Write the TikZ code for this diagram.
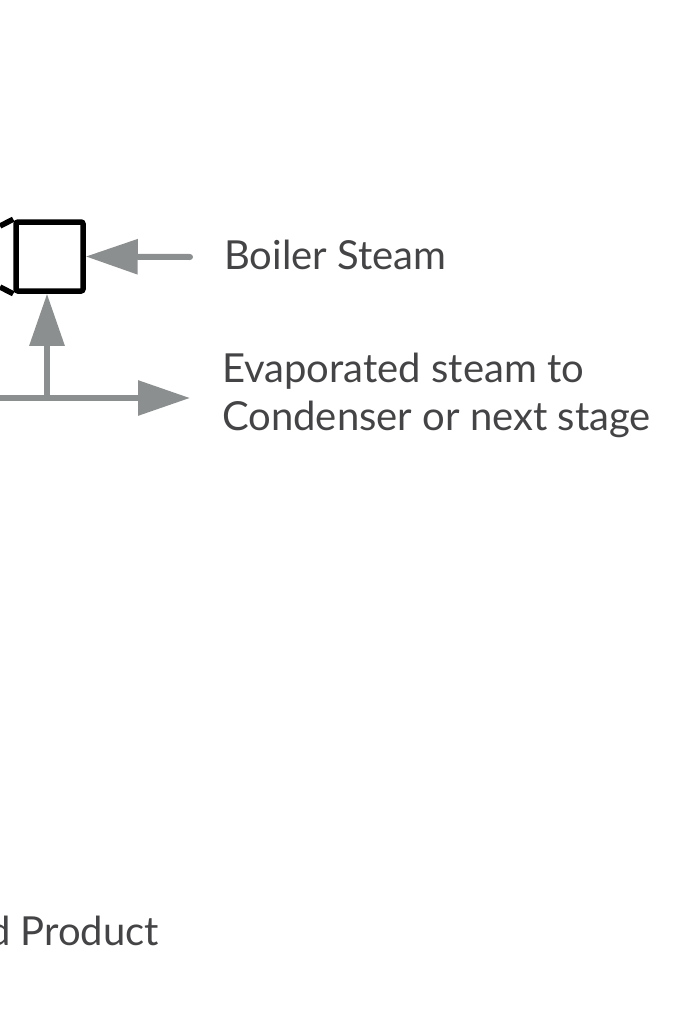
\documentclass[tikz,border=0pt]{standalone}
\usepackage{fontspec}
\setmainfont{Lato}
\usetikzlibrary{arrows.meta}
\definecolor{flowgray}{RGB}{140,143,143}
\definecolor{txtgray}{RGB}{68,68,70}
\tikzset{
  flow/.style={draw=flowgray, line width=6pt, -{Triangle[length=52pt,width=34pt]}},
  label/.style={anchor=base west, inner sep=0pt, text=txtgray, font=\fontsize{40}{48}\selectfont, align=left},
  ejector/.style={draw=black, line width=5.5pt, rounded corners=2pt, minimum width=67pt, minimum height=69pt, inner sep=0pt}
}
\begin{document}
\begin{tikzpicture}[x=1pt,y=-1pt]
\useasboundingbox (0,0) rectangle (676,1025);
\node[ejector] (box) at (49.5,256.5) {};
\coordinate (ctop) at (0,226);
\coordinate (cbot) at (0,287);
\draw[line width=5.5pt] (box.north west) -- (ctop);
\draw[line width=5.5pt] (box.south west) -- (cbot);
\coordinate (bsin) at (190,257);
\draw[flow, line cap=round] (bsin) -- (box.east);
\coordinate (jn) at (47,398);
\coordinate (hin) at (0,398);
\coordinate (hout) at (190,398);
\draw[flow] (jn) -- (jn |- box.south);
\draw[flow] (hin) -- (hout);
\node[label] (boiler) at (224,269) {Boiler Steam};
\node[label] (evap) at (222,430) {Evaporated steam to\\Condenser or next stage};
\node[label] (prod) at (-12,945) {d Product};
\end{tikzpicture}
\end{document}
